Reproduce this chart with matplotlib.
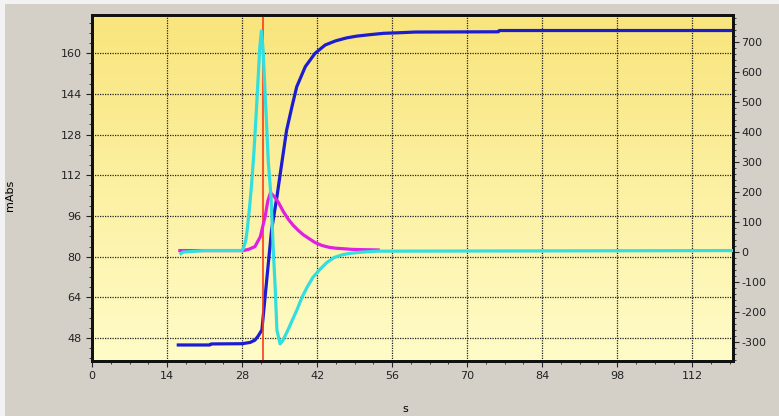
import numpy as np
import matplotlib
matplotlib.use("Agg")
import matplotlib.pyplot as plt
from matplotlib.ticker import MultipleLocator
from matplotlib.patches import Rectangle
from matplotlib.colors import LinearSegmentedColormap

plt.rcParams["axes.unicode_minus"] = False

# time axis (s) and curves
blue_t = [16.1, 22.0, 22.2, 28.0, 29.5, 30.4, 31.0, 31.7, 32.3, 32.9, 33.5, 34.5, 35.4,
          36.3, 37.3, 38.2, 39.8, 41.6, 43.5, 45.4, 47.5, 49.4, 52.0, 54.4, 57.0, 60.3,
          75.8, 76.0, 119.6]
blue_y = [45.3, 45.3, 45.7, 45.8, 46.3, 47.2, 48.8, 51.2, 64.3, 77.4, 90.4, 103.5, 116.6,
          129.6, 138.9, 146.8, 154.7, 159.9, 163.2, 164.8, 166.0, 166.7, 167.3, 167.8, 168.0, 168.3,
          168.4, 168.9, 168.9]

cyan_t = [16.6, 17.0, 21.0, 28.0, 28.3, 28.7, 29.0, 29.4, 29.8, 30.2, 30.6, 31.0, 31.3,
          31.6, 31.9, 32.3, 32.9, 33.4, 33.8, 34.2, 34.5, 35.1, 35.6, 36.5, 37.4, 38.3,
          39.2, 40.2, 41.2, 42.4, 43.8, 45.2, 46.7, 48.2, 50.5, 53.1, 119.6]
cyan_y = [-5, 0, 5, 5, 15, 40, 80, 150, 230, 330, 450, 580, 680,
          737, 680, 530, 300, 184, 18, -127, -260, -306, -295, -262, -226, -190,
          -150, -115, -85, -60, -35, -18, -9, -4, 0, 3, 5]

mag_t = [16.4, 28.2, 29.2, 30.4, 31.4, 32.3, 32.8, 33.3, 34.0, 34.8, 35.7, 36.6, 37.5,
         38.5, 39.4, 40.4, 41.6, 42.9, 44.2, 45.4, 47.0, 48.5, 50.5, 53.4]
mag_y = [5, 5, 9, 18, 51, 118, 170, 198, 185, 165, 135, 110, 90,
         72, 58, 46, 32, 22, 16, 13, 11, 9, 8, 7]

marker_t = 31.9

fig = plt.figure(figsize=(7.79, 4.16), dpi=100)
fig.patch.set_facecolor("#f2f2f2")
fig.patches.append(Rectangle((5 / 779, 0), 1, 1 - 4 / 416, transform=fig.transFigure,
                             facecolor="#d4d0c8", edgecolor="none", zorder=0))

ax = fig.add_axes([92 / 779, 1 - 361 / 416, 641 / 779, 346 / 416])
ax.set_zorder(1)

# yellow gradient background
cmap = LinearSegmentedColormap.from_list("bg", ["#fffcc8", "#f9e57c"])
grad = np.linspace(0, 1, 256).reshape(-1, 1)
ax.imshow(grad, cmap=cmap, aspect="auto", extent=[0, 1, 0, 1],
          transform=ax.transAxes, origin="lower", zorder=0)

ax.plot(blue_t, blue_y, color="#1c1cd0", lw=2.3, zorder=3)
ax.axvline(marker_t, color="#ff3a1a", lw=1.2, zorder=5)

ax.set_xlim(0, 119.6)
ax.set_ylim(39, 175)
ax.xaxis.set_major_locator(MultipleLocator(14))
ax.xaxis.set_minor_locator(MultipleLocator(3.5))
ax.yaxis.set_major_locator(MultipleLocator(16))
ax.yaxis.set_minor_locator(MultipleLocator(4))
ax.grid(True, which="major", color="#222222", ls=(0, (1, 1)), lw=0.9)
ax.set_axisbelow(False)
ax.tick_params(which="both", direction="out", labelsize=8, colors="#222222")
ax.tick_params(which="major", length=4)
ax.tick_params(which="minor", length=2.5)
ax.set_ylabel("mAbs", fontsize=8)
ax.yaxis.set_label_coords(-0.12, 0.48)
ax.set_xlabel("s", fontsize=8)
ax.xaxis.set_label_coords(0.488, -0.125)

ax2 = ax.twinx()
ax2.plot(mag_t, mag_y, color="#e020e0", lw=2.3, zorder=3)
ax2.plot(cyan_t, cyan_y, color="#33dede", lw=2.3, zorder=4)
ax2.set_ylim(-363, 790)
ax2.yaxis.set_major_locator(MultipleLocator(100))
ax2.yaxis.set_minor_locator(MultipleLocator(20))
ax2.tick_params(which="both", direction="out", labelsize=8, colors="#222222", pad=2)
ax2.tick_params(which="major", length=4)
ax2.tick_params(which="minor", length=2.5)

for a in (ax, ax2):
    for sp in a.spines.values():
        sp.set_linewidth(2)
        sp.set_color("#111111")

fig.savefig("out.png", dpi=100, facecolor=fig.get_facecolor())
